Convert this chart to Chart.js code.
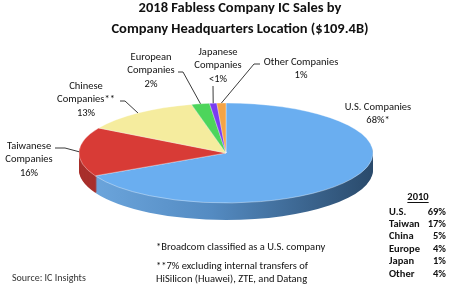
<!DOCTYPE html>
<html><head><meta charset="utf-8">
<script src="https://cdn.jsdelivr.net/npm/chart.js@4/dist/chart.umd.min.js"></script>
<style>html,body{margin:0;padding:0;background:#fff;overflow:hidden}canvas{display:block}</style>
</head><body>
<canvas id="c" width="450" height="291"></canvas>
<script>
// ---- data ----
const titleLines = ['2018 Fabless Company IC Sales by', 'Company Headquarters Location ($109.4B)'];
const categoryLines = [['U.S. Companies'], ['Taiwanese', 'Companies'], ['Chinese', 'Companies**'], ['European', 'Companies'], ['Japanese', 'Companies'], ['Other Companies']];
const categories = categoryLines.map(l => l.join(' '));
const shares2018 = [68, 16, 13, 2, 0.8, 1];
const shareLabels = ['68%*', '16%', '13%', '2%', '<1%', '1%'];
const regions2010 = ['U.S.', 'Taiwan', 'China', 'Europe', 'Japan', 'Other'];
const shares2010 = ['69%', '17%', '5%', '4%', '1%', '4%'];
const footnotes = ['*Broadcom classified as a U.S. company', '**7% excluding internal transfers of', 'HiSilicon (Huawei), ZTE, and Datang'];
const sourceNote = 'Source: IC Insights';

// ---- styles / layout ----
const topColors = ['#6aaef0', '#d83b36', '#f5ec9e', '#4dd55b', '#7a3df2', '#f4a446'];
const sideColors = ['#4f86bd', '#a82f2b', '#c8bd6e', '#36a642', '#5a2ab8', '#c27d2c'];
const SQUASH = 0.34, DEPTH = 17;
const FONT = 'Carlito, Lato, "Open Sans", sans-serif';
const labelLayout = [
  { x: 378, y: 107, lead: [] },
  { x: 29, y: 146, lead: [[55, 148], [65, 148]] },
  { x: 86, y: 86, lead: [[120, 101], [125, 101]] },
  { x: 151, y: 57, lead: [[178, 72], [183, 72]] },
  { x: 218, y: 52, lead: [[213, 86]] },
  { x: 301, y: 62, lead: [[260, 64], [254, 64]] }
];

const pie3d = {
  id: 'pie3d',
  beforeDatasetsDraw(chart) {
    const meta = chart.getDatasetMeta(0);
    const ctx = chart.ctx;
    const a0 = meta.data[0];
    const cx = a0.x, cy = a0.y, r = a0.outerRadius;
    const grad = ctx.createLinearGradient(-r, 0, r, 0);
    grad.addColorStop(0, '#6ea8df');
    grad.addColorStop(0.45, '#548bc2');
    grad.addColorStop(1, '#2a4a6b');
    for (let d = DEPTH; d >= 1; d--) {
      ctx.save();
      ctx.translate(cx, cy + d);
      ctx.scale(1, SQUASH);
      meta.data.forEach((arc, i) => {
        ctx.beginPath();
        ctx.moveTo(0, 0);
        ctx.arc(0, 0, r, arc.startAngle, arc.endAngle);
        ctx.closePath();
        ctx.fillStyle = i === 0 ? grad : sideColors[i];
        ctx.fill();
      });
      ctx.restore();
    }
    ctx.save();
    ctx.translate(cx, cy);
    ctx.scale(1, SQUASH);
    ctx.translate(-cx, -cy);
  },
  afterDatasetsDraw(chart) {
    chart.ctx.restore();
  }
};

const texts = {
  id: 'texts',
  afterDraw(chart) {
    const ctx = chart.ctx;
    const meta = chart.getDatasetMeta(0);
    ctx.save();
    ctx.textBaseline = 'middle';
    // title
    ctx.fillStyle = '#111';
    ctx.textAlign = 'center';
    ctx.font = 'bold 14.5px ' + FONT;
    ctx.fillText(titleLines[0], 240, 8);
    ctx.fillText(titleLines[1], 240, 29);
    // labels + leader lines
    ctx.font = '10.5px ' + FONT;
    ctx.strokeStyle = '#3a3a3a';
    ctx.lineWidth = 1;
    meta.data.forEach((arc, i) => {
      const L = labelLayout[i];
      const lines = categoryLines[i].concat([shareLabels[i]]);
      lines.forEach((t, k) => ctx.fillText(t, L.x, L.y + k * 13.5));
      if (L.lead.length) {
        const mid = (arc.startAngle + arc.endAngle) / 2;
        const ex = arc.x + arc.outerRadius * Math.cos(mid);
        const ey = arc.y + arc.outerRadius * SQUASH * Math.sin(mid);
        ctx.beginPath();
        ctx.moveTo(L.lead[0][0], L.lead[0][1]);
        for (let k = 1; k < L.lead.length; k++) ctx.lineTo(L.lead[k][0], L.lead[k][1]);
        ctx.lineTo(ex, ey);
        ctx.stroke();
      }
    });
    // 2010 table
    ctx.font = 'bold 10.5px ' + FONT;
    ctx.textAlign = 'center';
    ctx.fillText('2010', 418, 197);
    const w = ctx.measureText('2010').width;
    ctx.fillRect(418 - w / 2, 202, w, 1);
    regions2010.forEach((r, k) => {
      const y = 212 + k * 12.4;
      ctx.textAlign = 'left';
      ctx.fillText(r, 389, y);
      ctx.textAlign = 'right';
      ctx.fillText(shares2010[k], 446, y);
    });
    // footnotes
    ctx.font = '10.5px ' + FONT;
    ctx.textAlign = 'left';
    ctx.fillText(footnotes[0], 156, 247);
    ctx.fillText(footnotes[1], 156, 266);
    ctx.fillText(footnotes[2], 156, 279);
    ctx.font = '10px ' + FONT;
    ctx.fillStyle = '#333';
    ctx.fillText(sourceNote, 12, 278);
    ctx.restore();
  }
};

new Chart(document.getElementById('c'), {
  type: 'pie',
  data: {
    labels: categories,
    datasets: [{
      data: shares2018,
      backgroundColor: topColors,
      borderColor: 'rgba(255,255,255,0.55)',
      borderWidth: 1,
      radius: 147,
      clip: false
    }]
  },
  options: {
    responsive: false,
    devicePixelRatio: 1,
    animation: false,
    events: [],
    layout: { padding: { left: 2, right: 0, top: 15, bottom: 0 } },
    plugins: { legend: { display: false }, tooltip: { enabled: false }, title: { display: false } }
  },
  plugins: [pie3d, texts]
});
</script>
</body></html>
